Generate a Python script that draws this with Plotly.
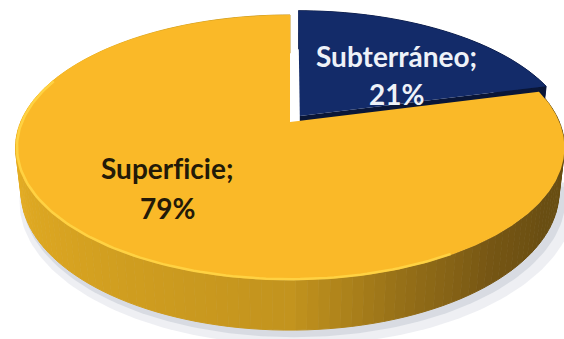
import numpy as np
import plotly.graph_objects as go

# ---- data ----
categories = ["Subterráneo", "Superficie"]
values = [21, 79]
pct_labels = ["21%", "79%"]

# ---- style ----
top_colors = ["#132B69", "#FAB928"]
text_colors = ["#EEF2F8", "#231A08"]
explode = [0.06, 0.0]
label_theta = [48.5, 221.3]
label_r = [0.52, 0.627]
line_gap = [19, 20]

W, HGT = 564, 339
ELEV = np.radians(28.3)
S, C = np.sin(ELEV), np.cos(ELEV)
DIST = 4.567
FOC = 1230
CX, CY = 290, 122
THICK = 0.187


def proj(X, Y, Z):
    X = np.asarray(X, float)
    Y = np.asarray(Y, float)
    Z = np.asarray(Z, float)
    depth = DIST + Y * C - Z * S
    return CX + FOC * X / depth, CY - FOC * (Y * S + Z * C) / depth


def wall_rgb(th, navy):
    if navy:
        return "rgb(12,28,72)"
    th = th % 360
    st = [0, 90, 120, 140, 160, 180, 210, 240, 270, 300, 360]
    R = [200, 105, 105, 118, 150, 195, 208, 222, 238, 238, 200]
    G = [150, 78, 78, 86, 112, 148, 158, 168, 182, 182, 150]
    B = [30, 18, 18, 20, 24, 30, 32, 34, 40, 40, 30]
    return "rgb(%d,%d,%d)" % (np.interp(th, st, R), np.interp(th, st, G), np.interp(th, st, B))


total = float(sum(values))
bounds = np.concatenate([[0], np.cumsum(values)]) / total * 360.0
slices = []
for i in range(len(values)):
    t0, t1 = bounds[i], bounds[i + 1]
    tm = np.radians((t0 + t1) / 2)
    ox, oy = explode[i] * np.sin(tm), explode[i] * np.cos(tm)
    slices.append((t0, t1, ox, oy))

fig = go.Figure()


def poly(xs, ys, color, line_color=None, lw=0.0):
    fig.add_trace(go.Scatter(
        x=list(xs), y=list(ys), mode="lines", fill="toself", fillcolor=color,
        line=dict(color=line_color or color, width=lw), hoverinfo="skip", showlegend=False))


# shadow under the front of the pie
th_sh = np.radians(np.linspace(95, 265, 121))
for scale, dx, dy, col in [(1.03, 7, 9, "rgba(205,210,220,0.35)"), (1.01, 4, 5, "rgba(175,182,195,0.35)")]:
    sx, sy = proj(scale * np.sin(th_sh), scale * np.cos(th_sh), -THICK * np.ones_like(th_sh))
    poly(sx + dx, sy + dy, col)

# walls: yellow first, then navy
order = [1, 0]
for i in order:
    t0, t1, ox, oy = slices[i]
    n = max(2, int(np.ceil((t1 - t0) / 2.0)))
    edges = np.linspace(t0, t1, n + 1)
    quads = []
    for a, b in zip(edges[:-1], edges[1:]):
        ra, rb = np.radians(a), np.radians(b)
        X = [np.sin(ra) + ox, np.sin(rb) + ox, np.sin(rb) + ox, np.sin(ra) + ox]
        Y = [np.cos(ra) + oy, np.cos(rb) + oy, np.cos(rb) + oy, np.cos(ra) + oy]
        Z = [0, 0, -THICK, -THICK]
        depth_mid = np.cos(np.radians((a + b) / 2))
        quads.append((depth_mid, X, Y, Z, (a + b) / 2))
    quads.sort(key=lambda q: -q[0])
    for _, X, Y, Z, tmid in quads:
        sx, sy = proj(X, Y, Z)
        col = wall_rgb(tmid, i == 0)
        poly(sx, sy, col, col, 1.0)
    if i == 0:
        # visible radial face at the end of the navy slice
        r1 = np.radians(t1)
        X = [ox, np.sin(r1) + ox, np.sin(r1) + ox, ox]
        Y = [oy, np.cos(r1) + oy, np.cos(r1) + oy, oy]
        Z = [0, 0, -THICK, -THICK]
        sx, sy = proj(X, Y, Z)
        poly(sx, sy, "rgb(10,22,55)")

# top faces: yellow then navy
for i in order:
    t0, t1, ox, oy = slices[i]
    th = np.radians(np.linspace(t0, t1, int((t1 - t0) * 2) + 2))
    X = np.concatenate([[ox], np.sin(th) + ox, [ox]])
    Y = np.concatenate([[oy], np.cos(th) + oy, [oy]])
    sx, sy = proj(X, Y, np.zeros_like(X))
    poly(sx, sy, top_colors[i])

# rim highlight on the yellow top face
t0, t1, ox, oy = slices[1]
th = np.radians(np.linspace(150, 290, 120))
sx, sy = proj(0.995 * np.sin(th) + ox, 0.995 * np.cos(th) + oy, np.zeros_like(th))
fig.add_trace(go.Scatter(x=sx, y=sy, mode="lines", line=dict(color="rgba(255,214,70,0.85)", width=2.5),
                         hoverinfo="skip", showlegend=False))

# labels
for i in range(len(values)):
    t0, t1, ox, oy = slices[i]
    lt = np.radians(label_theta[i])
    lx, ly = proj(label_r[i] * np.sin(lt) + ox, label_r[i] * np.cos(lt) + oy, 0.0)
    name = categories[i].replace("fi", "f\u200ci")
    for txt, shift in [(name + ";", line_gap[i]), (pct_labels[i], -line_gap[i])]:
        fig.add_annotation(x=float(lx), y=float(ly), text="<b>" + txt + "</b>", showarrow=False,
                           xanchor="center", yanchor="middle", yshift=shift,
                           font=dict(family="Lato", size=28, color=text_colors[i]))

fig.update_layout(
    width=W, height=HGT, margin=dict(l=0, r=0, t=0, b=0),
    paper_bgcolor="white", plot_bgcolor="white", showlegend=False,
    xaxis=dict(range=[0, W], visible=False, fixedrange=True),
    yaxis=dict(range=[HGT, 0], visible=False, fixedrange=True),
)
fig.write_html("out.html")
